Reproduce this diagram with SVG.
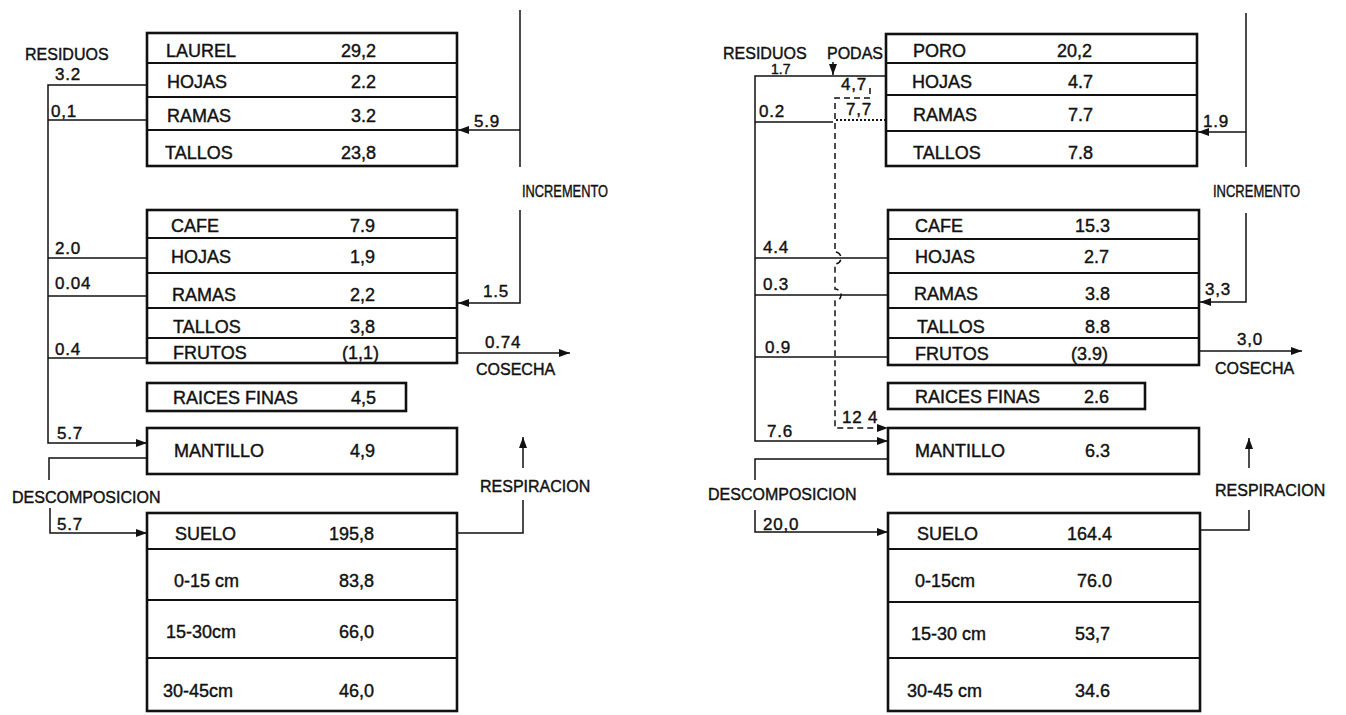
<svg xmlns="http://www.w3.org/2000/svg" width="1346" height="715" viewBox="0 0 1346 715">
<defs>
<marker id="ah" markerUnits="userSpaceOnUse" markerWidth="11" markerHeight="8" refX="11" refY="4" orient="auto"><path d="M0,0 L11,4 L0,8 Z" fill="#111"/></marker>
<style>
.box{fill:#fff;stroke:#111;stroke-width:2.6}
.row{stroke:#111;stroke-width:1.8}
.ln{fill:none;stroke:#111;stroke-width:1.5}
.dash{stroke-dasharray:6 4}
.dot{stroke-dasharray:2 2;stroke-width:2.2}
text{font-family:"Liberation Sans",Arial,sans-serif;fill:#111;stroke:#111;stroke-width:0.4}
.t{font-size:18px}
.v{font-size:18px;text-anchor:end}
.l{font-size:16px}
.n{font-size:17px;letter-spacing:0.8px}
.s{font-size:14px}
</style>
</defs>
<rect width="1346" height="715" fill="#fff"/>

<!-- LEFT DIAGRAM -->
<g id="conn-left">
<path class="ln" d="M147,85 H48 V443 H147" marker-end="url(#ah)"/>
<path class="ln" d="M147,120 H48"/>
<path class="ln" d="M147,258 H48"/>
<path class="ln" d="M147,296 H48"/>
<path class="ln" d="M147,358 H48"/>
<path class="ln" d="M520,10 V167"/>
<path class="ln" d="M520,130 H458" marker-end="url(#ah)"/>
<path class="ln" d="M520,210 V303 H458" marker-end="url(#ah)"/>
<path class="ln" d="M457,353 H570" marker-end="url(#ah)"/>
<path class="ln" d="M147,458 H49 V480"/>
<path class="ln" d="M50,508 V533 H147" marker-end="url(#ah)"/>
<path class="ln" d="M457,533 H523 V500"/>
<path class="ln" d="M523,468 V437" marker-end="url(#ah)"/>
<text class="l" x="25" y="60">RESIDUOS</text>
<text class="n" x="55" y="80">3.2</text>
<text class="n" x="51" y="117">0,1</text>
<text class="n" x="55" y="254">2.0</text>
<text class="n" x="55" y="289">0.04</text>
<text class="n" x="55" y="355">0.4</text>
<text class="n" x="57" y="439">5.7</text>
<text class="n" x="474" y="127">5.9</text>
<text class="l" x="522" y="197" textLength="86" lengthAdjust="spacingAndGlyphs">INCREMENTO</text>
<text class="n" x="483" y="297">1.5</text>
<text class="n" x="485" y="348">0.74</text>
<text class="l" x="476" y="375">COSECHA</text>
<text class="l" x="12" y="503">DESCOMPOSICION</text>
<text class="n" x="57" y="530">5.7</text>
<text class="l" x="480" y="492">RESPIRACION</text>
</g>

<g id="laurel">
<rect class="box" x="147" y="33" width="310" height="133"/>
<path class="row" d="M147,63 H457 M147,97 H457 M147,130 H457"/>
<text class="t" x="166" y="57">LAUREL</text><text class="v" x="376" y="57">29,2</text>
<text class="t" x="167" y="88">HOJAS</text><text class="v" x="376" y="88">2.2</text>
<text class="t" x="167" y="122">RAMAS</text><text class="v" x="376" y="122">3.2</text>
<text class="t" x="165" y="159">TALLOS</text><text class="v" x="376" y="159">23,8</text>
</g>

<g id="cafe-left">
<rect class="box" x="147" y="210" width="310" height="153"/>
<path class="row" d="M147,238 H457 M147,273 H457 M147,308 H457 M147,338 H457"/>
<text class="t" x="171" y="232">CAFE</text><text class="v" x="375" y="232">7.9</text>
<text class="t" x="171" y="263">HOJAS</text><text class="v" x="375" y="263">1,9</text>
<text class="t" x="172" y="301">RAMAS</text><text class="v" x="375" y="301">2,2</text>
<text class="t" x="173" y="333">TALLOS</text><text class="v" x="375" y="333">3,8</text>
<text class="t" x="173" y="359">FRUTOS</text><text class="t" x="342" y="359">(1,1)</text>
</g>

<g id="raices-left">
<rect class="box" x="147" y="383" width="259" height="28"/>
<text class="t" x="173" y="404">RAICES FINAS</text><text class="v" x="376" y="404">4,5</text>
</g>

<g id="mantillo-left">
<rect class="box" x="147" y="428" width="310" height="46"/>
<text class="t" x="174" y="457">MANTILLO</text><text class="v" x="375" y="457">4,9</text>
</g>

<g id="suelo-left">
<rect class="box" x="147" y="513" width="310" height="198"/>
<path class="row" d="M147,549 H457 M147,600 H457 M147,658 H457"/>
<text class="t" x="175" y="540">SUELO</text><text class="v" x="374" y="540">195,8</text>
<text class="t" x="174" y="587">0-15 cm</text><text class="v" x="374" y="587">83,8</text>
<text class="t" x="166" y="638">15-30cm</text><text class="v" x="374" y="638">66,0</text>
<text class="t" x="163" y="697">30-45cm</text><text class="v" x="374" y="697">46,0</text>
</g>

<!-- RIGHT DIAGRAM -->
<g id="conn-right">
<path class="ln" d="M886,76 H755 V441 H888" marker-end="url(#ah)"/>
<path class="ln" d="M833,122 H755"/>
<path class="ln dot" d="M886,120 H836"/>
<path class="ln dash" d="M833,62 V75" marker-end="url(#ah)"/>
<path class="ln dash" d="M870,88 V98 H835 V252 a6,6 0 0 1 0,12 V289 a6,6 0 0 1 0,12 V428 H888" marker-end="url(#ah)"/>
<path class="ln" d="M888,258 H755"/>
<path class="ln" d="M888,295 H755"/>
<path class="ln" d="M888,357 H755"/>
<path class="ln" d="M1246,13 V167"/>
<path class="ln" d="M1246,132 H1198" marker-end="url(#ah)"/>
<path class="ln" d="M1246,213 V302 H1200" marker-end="url(#ah)"/>
<path class="ln" d="M1199,351 H1302" marker-end="url(#ah)"/>
<path class="ln" d="M888,459 H755 V480"/>
<path class="ln" d="M755,510 V532 H888" marker-end="url(#ah)"/>
<path class="ln" d="M1200,530 H1249 V510"/>
<path class="ln" d="M1249,468 V438" marker-end="url(#ah)"/>
<text class="l" x="723" y="59">RESIDUOS</text>
<text class="l" x="827" y="59">PODAS</text>
<text class="s" x="771" y="74">1.7</text>
<text class="n" x="841" y="90">4,7</text>
<text class="n" x="846" y="115">7,7</text>
<text class="n" x="759" y="117">0.2</text>
<text class="n" x="763" y="253">4.4</text>
<text class="n" x="763" y="290">0.3</text>
<text class="n" x="765" y="353">0.9</text>
<text class="n" x="842" y="423">12 4</text>
<text class="n" x="767" y="437">7.6</text>
<text class="n" x="1203" y="127">1.9</text>
<text class="l" x="1213" y="197" textLength="87" lengthAdjust="spacingAndGlyphs">INCREMENTO</text>
<text class="n" x="1205" y="295">3,3</text>
<text class="n" x="1237" y="345">3,0</text>
<text class="l" x="1215" y="374">COSECHA</text>
<text class="l" x="708" y="500">DESCOMPOSICION</text>
<text class="n" x="763" y="530">20,0</text>
<text class="l" x="1215" y="496">RESPIRACION</text>
</g>

<g id="poro">
<rect class="box" x="886" y="34" width="311" height="132"/>
<path class="row" d="M886,63 H1197 M886,95 H1197 M886,131 H1197"/>
<text class="t" x="913" y="57">PORO</text><text class="v" x="1092" y="57">20,2</text>
<text class="t" x="912" y="88">HOJAS</text><text class="v" x="1093" y="88">4.7</text>
<text class="t" x="913" y="121">RAMAS</text><text class="v" x="1093" y="121">7.7</text>
<text class="t" x="913" y="159">TALLOS</text><text class="v" x="1093" y="159">7.8</text>
</g>

<g id="cafe-right">
<rect class="box" x="888" y="210" width="311" height="155"/>
<path class="row" d="M888,239 H1199 M888,273 H1199 M888,308 H1199 M888,338 H1199"/>
<text class="t" x="915" y="232">CAFE</text><text class="v" x="1110" y="232">15.3</text>
<text class="t" x="915" y="263">HOJAS</text><text class="v" x="1109" y="263">2.7</text>
<text class="t" x="914" y="300">RAMAS</text><text class="v" x="1110" y="300">3.8</text>
<text class="t" x="917" y="333">TALLOS</text><text class="v" x="1110" y="333">8.8</text>
<text class="t" x="915" y="360">FRUTOS</text><text class="t" x="1071" y="360">(3.9)</text>
</g>

<g id="raices-right">
<rect class="box" x="888" y="383" width="257" height="26"/>
<text class="t" x="915" y="403">RAICES FINAS</text><text class="v" x="1109" y="403">2.6</text>
</g>

<g id="mantillo-right">
<rect class="box" x="888" y="428" width="311" height="46"/>
<text class="t" x="915" y="457">MANTILLO</text><text class="v" x="1110" y="457">6.3</text>
</g>

<g id="suelo-right">
<rect class="box" x="888" y="513" width="312" height="198"/>
<path class="row" d="M888,549 H1200 M888,602 H1200 M888,658 H1200"/>
<text class="t" x="917" y="540">SUELO</text><text class="v" x="1112" y="540">164.4</text>
<text class="t" x="915" y="587">0-15cm</text><text class="v" x="1112" y="587">76.0</text>
<text class="t" x="911" y="640">15-30 cm</text><text class="v" x="1110" y="640">53,7</text>
<text class="t" x="907" y="697">30-45 cm</text><text class="v" x="1110" y="697">34.6</text>
</g>
</svg>
